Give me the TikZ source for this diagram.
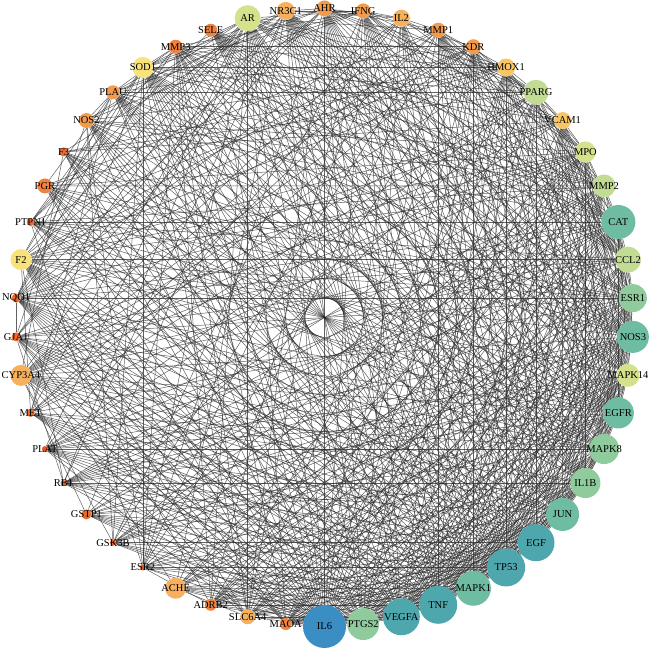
\documentclass[tikz,border=0pt]{standalone}
\usepackage{fontspec}
\setmainfont{Liberation Serif}
\usetikzlibrary{backgrounds}

% degree colours, low to high
\definecolor{lev1}{HTML}{E8581F}
\definecolor{lev2}{HTML}{EC6A2E}
\definecolor{lev3}{HTML}{EF8241}
\definecolor{lev4}{HTML}{F29A4E}
\definecolor{lev5}{HTML}{F6B05E}
\definecolor{lev6}{HTML}{F8C664}
\definecolor{lev7}{HTML}{F8E27C}
\definecolor{lev8}{HTML}{D6E28B}
\definecolor{lev9}{HTML}{C2DC94}
\definecolor{lev10}{HTML}{8FCB9C}
\definecolor{lev11}{HTML}{6EBCA2}
\definecolor{lev12}{HTML}{4FA7AE}
\definecolor{lev13}{HTML}{3A8EC3}
\def\linkweight{{0,0.03,0.05,0.10,0.14,0.20,0.26,0.30,0.38,0.45,0.58,0.68,0.80,0.97}}

\begin{document}
\begin{tikzpicture}[x=1pt, y=1pt,
    gene/.style={circle, inner sep=0pt, draw=none},
    tag/.style={font=\fontsize{10.5}{12}\selectfont, inner sep=0pt},
    link/.style={draw=black!85, line width=0.5pt, opacity=0.72}
]
\useasboundingbox (0,0) rectangle (651,650);
\coordinate (hub) at (324.5,332.5);

% Genes, clockwise from AR
\foreach \g/\d/\l [count=\i from 0] in {AR/26/8, NR3C1/18/5, AHR/16/4, IFNG/15/4, IL2/17/5, MMP1/15/4, KDR/15/4, HMOX1/18/6, PPARG/25/9, VCAM1/17/6, MPO/21/8, MMP2/23/9, CAT/34/11, CCL2/26/9, ESR1/28/10, NOS3/32/11, MAPK14/23/8, EGFR/31/11, MAPK8/30/10, IL1B/30/10, JUN/33/11, EGF/37/12, TP53/38/12, MAPK1/35/11, TNF/38/12, VEGFA/37/12, PTGS2/32/10, IL6/43/13, MAOA/12/3, SLC6A4/15/5, ADRB2/12/3, ACHE/21/5, ESR2/6/1, GSK3B/6/1, GSTP1/10/2, RB1/6/1, PLAT/6/1, MET/8/2, CYP3A4/21/5, GJA1/9/2, NQO1/9/2, F2/21/7, PTPN1/8/2, PGR/15/3, F3/9/2, NOS2/15/4, PLAU/14/4, SOD1/21/7, MMP3/14/3, SELE/13/3} {
    \pgfmathsetmacro\ang{104.4-7.2*\i}
    \node[gene, minimum size=\d pt, fill=lev\l, label={[tag]center:\g}] (\g) at ([shift={(\ang:309)}]hub) {};
    \expandafter\xdef\csname gene\i\endcsname{\g}
    \expandafter\xdef\csname rank\i\endcsname{\l}
}

% Interactions
\pgfmathsetseed{11}
\begin{scope}[on background layer]
\foreach \i in {0,...,48} {
    \pgfmathtruncatemacro\first{\i+1}
    \edef\ga{\csname gene\i\endcsname}
    \edef\ra{\csname rank\i\endcsname}
    \foreach \j in {\first,...,49} {
        \edef\gb{\csname gene\j\endcsname}
        \edef\rb{\csname rank\j\endcsname}
        \pgfmathsetmacro\pa{\linkweight[\ra]}
        \pgfmathsetmacro\pb{\linkweight[\rb]}
        \pgfmathtruncatemacro\hit{rnd < 1-(1-\pa)*(1-\pb)}
        \ifnum\hit=1
            \draw[link] (\ga) -- (\gb);
        \fi
    }
}
\end{scope}
\end{tikzpicture}
\end{document}
